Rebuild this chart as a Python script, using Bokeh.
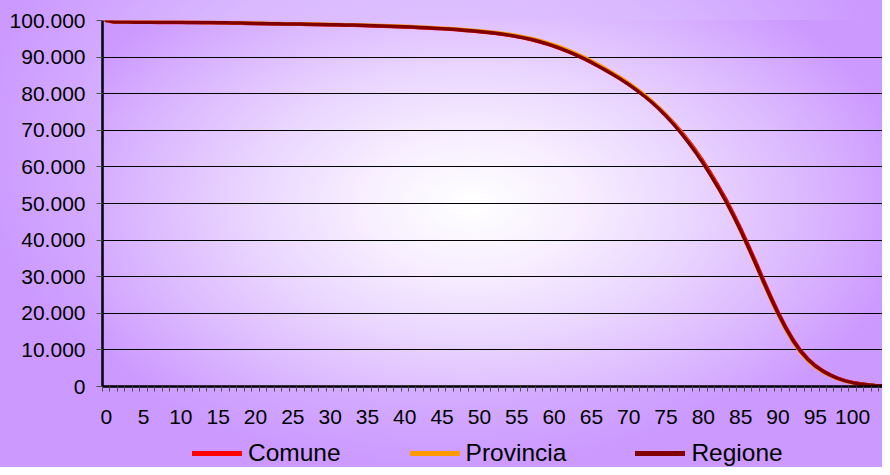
from bokeh.plotting import figure
from bokeh.models import Range1d, FixedTicker, Legend, LegendItem
from bokeh.layouts import column
from bokeh.embed import file_html
from bokeh.resources import INLINE

# ---- data ----
ages = list(range(0, 105))

comune = [100000, 99580, 99550, 99530, 99515, 99505, 99495, 99485, 99475, 99465,
          99455, 99442, 99427, 99408, 99387, 99360, 99328, 99287, 99240, 99195,
          99155, 99118, 99082, 99046, 99015, 98984, 98953, 98918, 98882, 98846,
          98810, 98765, 98725, 98680, 98630, 98575, 98515, 98450, 98380, 98305,
          98225, 98140, 98050, 97950, 97840, 97720, 97590, 97450, 97300, 97130,
          96940, 96730, 96500, 96240, 95940, 95590, 95190, 94730, 94200, 93600,
          92940, 92210, 91410, 90540, 89600, 88570, 87490, 86360, 85180, 83950,
          82620, 81200, 79680, 78040, 76240, 74250, 72100, 69750, 67200, 64450,
          61450, 58250, 54850, 51250, 47350, 43150, 38750, 34150, 29420, 24780,
          20420, 16450, 12880, 9920, 7580, 5730, 4300, 3180, 2260, 1600,
          1090, 725, 470, 305, 190]

provincia = [100000, 99650, 99620, 99600, 99590, 99580, 99570, 99560, 99550, 99540,
             99530, 99518, 99503, 99487, 99468, 99445, 99417, 99380, 99337, 99295,
             99260, 99228, 99195, 99163, 99135, 99108, 99080, 99048, 99016, 98984,
             98952, 98910, 98873, 98832, 98786, 98735, 98680, 98620, 98555, 98485,
             98410, 98330, 98245, 98150, 98045, 97930, 97805, 97670, 97525, 97360,
             97180, 96980, 96760, 96510, 96230, 95900, 95530, 95100, 94590, 94010,
             93360, 92640, 91840, 90970, 90020, 88990, 87900, 86750, 85550, 84290,
             82930, 81460, 79890, 78160, 76280, 74200, 71970, 69540, 66900, 64050,
             61000, 57750, 54300, 50650, 46700, 42420, 37980, 33350, 28620, 23990,
             19660, 15720, 12220, 9340, 7080, 5330, 3980, 2930, 2070, 1450,
             970, 645, 415, 265, 160]

regione = [100000, 99620, 99590, 99570, 99555, 99545, 99535, 99525, 99515, 99505,
           99495, 99482, 99467, 99450, 99430, 99405, 99375, 99335, 99290, 99245,
           99205, 99170, 99135, 99100, 99070, 99040, 99010, 98975, 98940, 98905,
           98870, 98825, 98785, 98740, 98690, 98635, 98575, 98510, 98440, 98365,
           98285, 98200, 98110, 98010, 97900, 97780, 97650, 97510, 97360, 97190,
           97000, 96790, 96560, 96300, 96000, 95650, 95250, 94790, 94260, 93660,
           92990, 92250, 91440, 90560, 89600, 88550, 87450, 86300, 85100, 83850,
           82500, 81050, 79500, 77800, 75950, 73900, 71700, 69300, 66700, 63900,
           60900, 57700, 54300, 50700, 46800, 42600, 38200, 33600, 28900, 24300,
           20000, 16100, 12600, 9700, 7400, 5600, 4200, 3100, 2200, 1550,
           1050, 700, 450, 290, 180]

series_names = ["Comune", "Provincia", "Regione"]
series_colors = ["#FF0000", "#FF9900", "#800000"]
series_values = [comune, provincia, regione]

x_tick_values = list(range(0, 101, 5))
y_tick_values = [0, 10000, 20000, 30000, 40000, 50000, 60000, 70000, 80000, 90000, 100000]
y_tick_labels = ["0", "10.000", "20.000", "30.000", "40.000", "50.000",
                 "60.000", "70.000", "80.000", "90.000", "100.000"]

FONT = "Liberation Sans"

# ---------------- main chart ----------------
p = figure(width=882, height=426,
           x_range=Range1d(-0.5, 104.0), y_range=Range1d(0, 100000),
           output_backend="svg", toolbar_location=None,
           min_border_left=102, min_border_right=0,
           min_border_top=20, min_border_bottom=0)

p.background_fill_color = None
p.border_fill_color = None
p.outline_line_color = None

p.xaxis.ticker = FixedTicker(ticks=x_tick_values,
                             minor_ticks=[a - 0.5 for a in range(0, 106)])
p.xaxis.major_tick_out = 0
p.xaxis.major_tick_in = 0
p.xaxis.minor_tick_out = 5
p.xaxis.minor_tick_in = 0
p.xaxis.minor_tick_line_color = "#505050"
p.xaxis.minor_tick_line_width = 1
p.xaxis.axis_line_color = "black"
p.xaxis.axis_line_width = 2.5
p.xaxis.major_label_standoff = 18
p.xaxis.major_label_text_font = FONT
p.xaxis.major_label_text_font_size = "21px"
p.xaxis.major_label_text_color = "black"

p.yaxis.ticker = FixedTicker(ticks=y_tick_values, minor_ticks=[])
p.yaxis.major_label_overrides = {v: s for v, s in zip(y_tick_values, y_tick_labels)}
p.yaxis.major_tick_out = 6
p.yaxis.major_tick_in = 0
p.yaxis.major_tick_line_color = "#505050"
p.yaxis.major_tick_line_width = 1
p.yaxis.minor_tick_line_color = None
p.yaxis.axis_line_color = "black"
p.yaxis.axis_line_width = 2.5
p.yaxis.major_label_standoff = 11
p.yaxis.major_label_text_font = FONT
p.yaxis.major_label_text_font_size = "21px"
p.yaxis.major_label_text_color = "black"

p.xgrid.visible = False
p.ygrid.grid_line_color = "black"
p.ygrid.grid_line_width = 1

for name, vals, col in zip(series_names, series_values, series_colors):
    p.line(ages, vals, line_color=col, line_width=3.5, line_cap="round", line_join="round")

# ---------------- legend strip ----------------
lg = figure(width=882, height=41,
            x_range=Range1d(0, 1), y_range=Range1d(0, 1),
            x_axis_type=None, y_axis_type=None,
            output_backend="svg", toolbar_location=None,
            min_border_left=0, min_border_right=0,
            min_border_top=0, min_border_bottom=0)
lg.background_fill_color = None
lg.border_fill_color = None
lg.outline_line_color = None
lg.grid.visible = False

legend_renderers = []
for name, vals, col in zip(series_names, series_values, series_colors):
    r = lg.line(ages, vals, line_color=col, line_width=5, line_cap="round", visible=False)
    legend_renderers.append(r)

legend = Legend(items=[LegendItem(label=n, renderers=[r]) for n, r in zip(series_names, legend_renderers)],
                orientation="horizontal", location=(90, 0),
                padding=0, margin=0, spacing=69,
                glyph_width=50, glyph_height=20, label_height=20,
                label_standoff=6,
                label_text_font=FONT, label_text_font_size="24.5px",
                label_text_color="black",
                background_fill_alpha=0, border_line_color=None,
                inactive_fill_alpha=0)
lg.add_layout(legend, "center")

layout = column(p, lg, spacing=0)
layout.styles = {
    "background": (
        "radial-gradient(441px 270px at 369px 184px, #FFFFFF 0%, #F7EEFF 25%, "
        "#EAD6FF 50%, #DCB9FF 75%, #CC99FF 100%) 102px 20px / 780px 366px no-repeat, "
        "radial-gradient(466px 324px at 441px 147px, #E2CAFF 0%, #DAB9FF 60%, #CB99FF 100%)"
    )
}

open("out.html", "w").write(file_html(layout, INLINE))
